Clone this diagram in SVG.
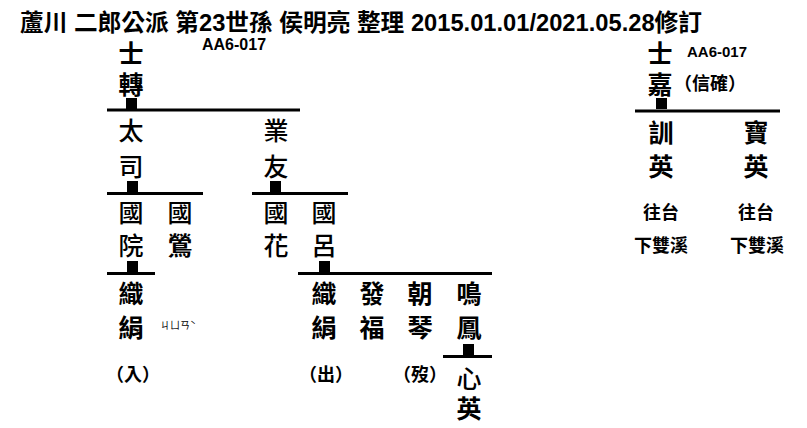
<svg xmlns="http://www.w3.org/2000/svg" width="807" height="428" viewBox="0 0 807 428">
<style>
.t{font-family:"Liberation Sans","Noto Sans CJK TC",sans-serif;font-weight:bold;fill:#000}
.c{font-family:"Noto Sans CJK TC","Noto Sans CJK JP",sans-serif;font-size:25px;font-weight:bold;text-anchor:middle;fill:#000}
.l{font-weight:500}
.s{font-family:"Noto Sans CJK TC",sans-serif;font-size:18px;font-weight:bold;text-anchor:middle;fill:#000}
.a{font-family:"Liberation Sans",sans-serif;font-weight:bold;fill:#000}
.z{font-family:"Noto Sans CJK TC",sans-serif;font-size:10px;fill:#000}
.bar{stroke:#000;stroke-width:3;fill:none}
</style>
<rect width="807" height="428" fill="#fff"/>
<text class="t" x="20" y="31" font-size="23.7">蘆川 二郎公派 第23世孫 侯明亮 整理 2015.01.01/2021.05.28修訂</text>
<g id="connectors">
<line class="bar" x1="107" y1="110" x2="300" y2="110"/><rect x="126" y="98" width="11" height="11"/>
<line class="bar" x1="107" y1="193.5" x2="203" y2="193.5"/><rect x="127" y="181" width="11" height="11"/>
<line class="bar" x1="252" y1="193.5" x2="348" y2="193.5"/><rect x="270" y="181" width="11" height="11"/>
<line class="bar" x1="107" y1="273.5" x2="155" y2="273.5"/><rect x="127" y="261" width="11" height="11"/>
<line class="bar" x1="298" y1="273.5" x2="492" y2="273.5"/><rect x="319" y="261" width="11" height="11"/>
<line class="bar" x1="443" y1="356.5" x2="492" y2="356.5"/><rect x="463" y="344" width="11" height="11"/>
<line class="bar" x1="635" y1="111" x2="780" y2="111"/><rect x="656" y="98" width="11" height="11"/>
</g>
<g id="shizhuan"><text class="c" x="131" y="63">士<tspan x="131" y="94">轉</tspan></text><text class="a" x="202" y="50" font-size="16">AA6-017</text></g>
<g id="taisi"><text class="c l" x="131" y="140">太</text><text class="c l" x="131" y="176">司</text></g>
<g id="yeyou"><text class="c l" x="276" y="140">業</text><text class="c l" x="276" y="176">友</text></g>
<g id="guoyuan"><text class="c l" x="131" y="222">國</text><text class="c l" x="131" y="255">院</text></g>
<g id="guoying"><text class="c l" x="180" y="222">國</text><text class="c" x="180" y="255">鶯</text></g>
<g id="guohua"><text class="c l" x="276" y="222">國</text><text class="c l" x="276" y="255">花</text></g>
<g id="guolu"><text class="c l" x="324" y="222">國</text><text class="c l" x="324" y="255">呂</text></g>
<g id="zhijuan1"><text class="c" x="131" y="303">織</text><text class="c" x="131" y="337">絹</text><text class="z" x="160" y="329">ㄐㄩㄢˋ</text><text class="s" x="133" y="381">（入）</text></g>
<g id="zhijuan2"><text class="c" x="324" y="303">織</text><text class="c" x="324" y="337">絹</text><text class="s" x="326" y="381">（出）</text></g>
<g id="fafu"><text class="c" x="372" y="303">發</text><text class="c" x="372" y="337">福</text></g>
<g id="chaoqin"><text class="c" x="420" y="303">朝</text><text class="c" x="420" y="337">琴</text><text class="s" x="420" y="381">（歿）</text></g>
<g id="mingfeng"><text class="c" x="469" y="303">鳴</text><text class="c" x="469" y="337">鳳</text></g>
<g id="xinying"><text class="c" x="469" y="388"><tspan font-weight="500">心</tspan><tspan x="469" y="418">英</tspan></text></g>
<g id="shijia"><text class="c" x="660" y="63">士<tspan x="660" y="94">嘉</tspan></text><text class="a" x="687" y="57" font-size="15">AA6-017</text><text class="s" x="710" y="90" font-size="17">（信確）</text></g>
<g id="xunying"><text class="c" x="661" y="142">訓</text><text class="c" x="661" y="176">英</text><text class="s" x="661" y="219">往台</text><text class="s" x="661" y="252">下雙溪</text></g>
<g id="baoying"><text class="c" x="756" y="142">寶</text><text class="c" x="756" y="176">英</text><text class="s" x="756" y="219">往台</text><text class="s" x="757" y="252">下雙溪</text></g>
</svg>
